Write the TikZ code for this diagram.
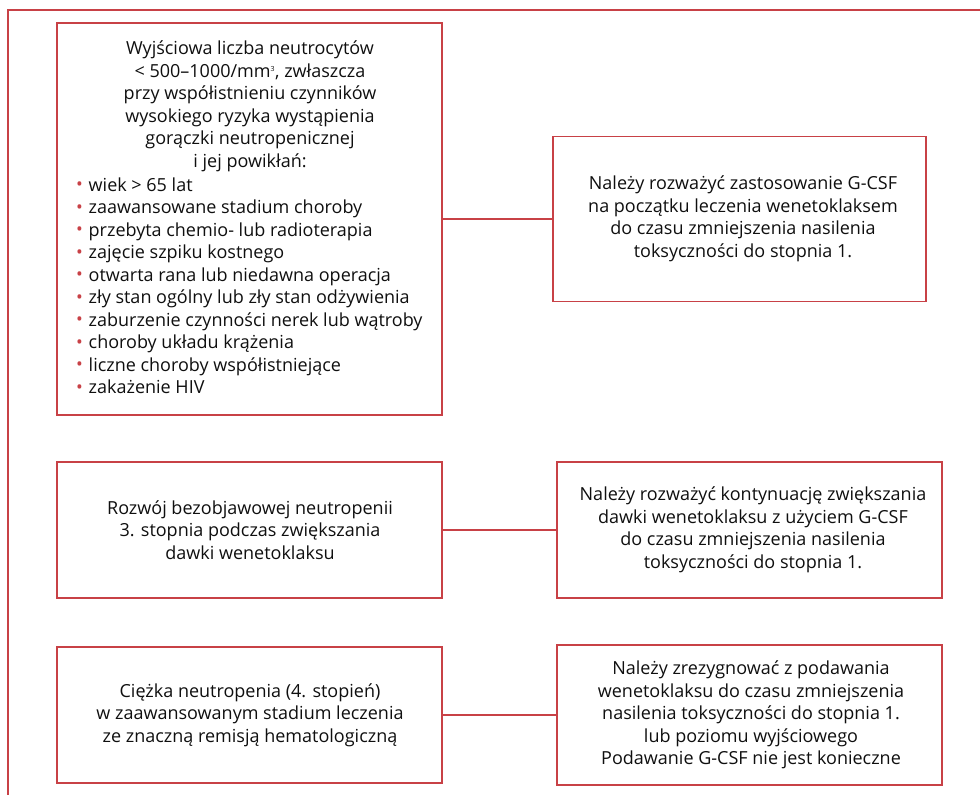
\documentclass[tikz,border=0pt]{standalone}
\usepackage{fontspec}
\setmainfont{Open Sans}
\definecolor{framered}{RGB}{200,65,70}
\definecolor{txtcol}{RGB}{15,15,15}
\tikzset{
  box/.style={draw=framered, line width=1.4pt, rectangle, inner sep=0pt},
  txt/.style={align=center, text=txtcol, font=\fontsize{18}{22.5}\selectfont, inner sep=0pt},
  conn/.style={draw=framered, line width=1.4pt}
}
\newcommand{\rb}{\makebox[12.5pt][l]{\textcolor{framered}{\raisebox{0.5pt}{\textbullet}}}}
\begin{document}
\begin{tikzpicture}[x=1pt,y=-1pt]
\useasboundingbox (0,0) rectangle (980,795);
% outer frame
\coordinate (ftr) at (980,10);
\coordinate (ftl) at (8,10);
\coordinate (fbl) at (8,795);
\draw[conn] (ftr) -- (ftl) -- (fbl);
% left boxes
\node[box, minimum width=385, minimum height=392] (b1) at (249.5,219) {};
\node[box, minimum width=385, minimum height=136] (b2) at (249.5,530) {};
\node[box, minimum width=385, minimum height=136] (b3) at (249.5,715) {};
% right boxes
\node[box, minimum width=373, minimum height=165] (r1) at (739.5,219) {};
\node[box, minimum width=385, minimum height=136] (r2) at (749.5,530) {};
\node[box, minimum width=385, minimum height=140] (r3) at (749.5,715) {};
% texts
\node[txt, anchor=north] (b1h) at (250,41) {Wyjściowa liczba neutrocytów\\
< 500–1000/mm\textsuperscript{\fontsize{7}{7}\selectfont 3}, zwłaszcza\\
przy współistnieniu czynników\\
wysokiego ryzyka wystąpienia\\
gorączki neutropenicznej\\
i jej powikłań:};
\node[txt, align=left, anchor=north west] (b1l) at (76,177.5) {\rb wiek > 65 lat\\
\rb zaawansowane stadium choroby\\
\rb przebyta chemio- lub radioterapia\\
\rb zajęcie szpiku kostnego\\
\rb otwarta rana lub niedawna operacja\\
\rb zły stan ogólny lub zły stan odżywienia\\
\rb zaburzenie czynności nerek lub wątroby\\
\rb choroby układu krążenia\\
\rb liczne choroby współistniejące\\
\rb zakażenie HIV};
\node[txt] (r1t) at (743,219) {Należy rozważyć zastosowanie G-CSF\\
na początku leczenia wenetoklaksem\\
do czasu zmniejszenia nasilenia\\
toksyczności do stopnia 1.};
\node[txt] (b2t) at (250,530) {Rozwój bezobjawowej neutropenii\\
3. stopnia podczas zwiększania\\
dawki wenetoklaksu};
\node[txt] (r2t) at (753,530) {Należy rozważyć kontynuację zwiększania\\
dawki wenetoklaksu z użyciem G-CSF\\
do czasu zmniejszenia nasilenia\\
toksyczności do stopnia 1.};
\node[txt] (b3t) at (250,715) {Ciężka neutropenia (4. stopień)\\
w zaawansowanym stadium leczenia\\
ze znaczną remisją hematologiczną};
\node[txt] (r3t) at (751,715) {Należy zrezygnować z podawania\\
wenetoklaksu do czasu zmniejszenia\\
nasilenia toksyczności do stopnia 1.\\
lub poziomu wyjściowego\\
Podawanie G-CSF nie jest konieczne};
% connectors
\draw[conn] (b1.east) -- (r1.west);
\draw[conn] (b2.east) -- (r2.west);
\draw[conn] (b3.east) -- (r3.west);
\end{tikzpicture}
\end{document}
